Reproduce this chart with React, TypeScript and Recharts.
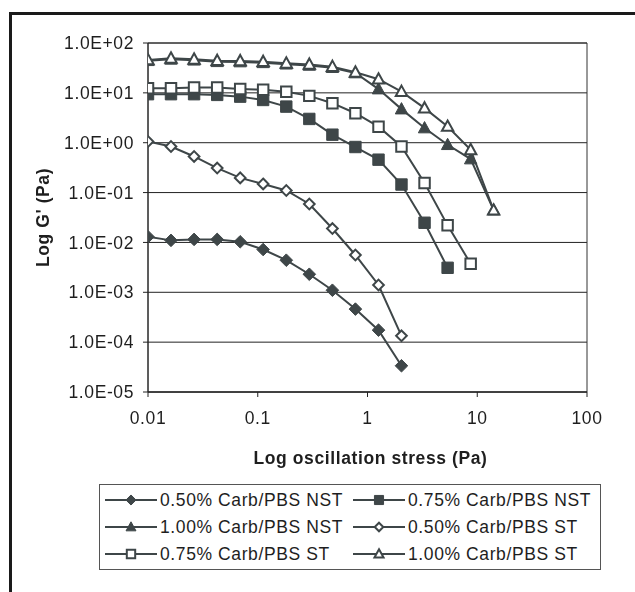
import React from 'react';
import { LineChart, Line, XAxis, YAxis, CartesianGrid, ReferenceArea } from 'recharts';

// Oscillation stress (Pa) – shared x positions
const xValues = [0.01, 0.0162, 0.0263, 0.0427, 0.0692, 0.112, 0.182, 0.295, 0.479, 0.776, 1.26, 2.04, 3.31, 5.37, 8.71, 14.1];

// G' (Pa) per series
const carb050NST = [0.013, 0.011, 0.0115, 0.0115, 0.0103, 0.0072, 0.0044, 0.0023, 0.0011, 0.00046, 0.000174, 0.0000336];
const carb075NST = [9.4, 9.4, 9.4, 9.1, 8.4, 7.2, 5.3, 3.0, 1.45, 0.82, 0.457, 0.145, 0.0248, 0.0031];
const carb100NST = [44, 47, 45, 42, 41.5, 40, 37.5, 35.5, 32, 25, 11.9, 4.72, 1.97, 0.91, 0.47, 0.0443];
const carb050ST = [1.06, 0.84, 0.53, 0.31, 0.197, 0.149, 0.11, 0.059, 0.019, 0.0056, 0.0014, 0.000134];
const carb075ST = [12.4, 12.4, 12.8, 12.8, 12.0, 11.5, 10.5, 8.7, 6.2, 3.9, 2.1, 0.84, 0.156, 0.022, 0.00375];
const carb100ST = [45.7, 49.4, 47.2, 44.3, 43.7, 42.3, 39.3, 37.2, 33.6, 25.9, 18.8, 10.6, 4.94, 2.12, 0.72, 0.0443];

const seriesNames = [
  '0.50% Carb/PBS NST',
  '0.75% Carb/PBS NST',
  '1.00% Carb/PBS NST',
  '0.50% Carb/PBS ST',
  '0.75% Carb/PBS ST',
  '1.00% Carb/PBS ST',
];
const seriesValues = [carb050NST, carb075NST, carb100NST, carb050ST, carb075ST, carb100ST];
const seriesShapes = ['diamond', 'square', 'triangle', 'diamond', 'square', 'triangle'];
const seriesFilled = [true, true, true, false, false, false];

const xTicks = [0.01, 0.1, 1, 10, 100];
const yTicks = [1e-5, 1e-4, 1e-3, 1e-2, 1e-1, 1, 10, 100];

const COLOR = '#3e4648';
const TEXT = '#1e1e1e';
const FONT = '"Liberation Sans", Arial, sans-serif';
const FS = 17.5;
const LS = 0.6;

const series = seriesNames.map((name, i) => ({
  name,
  shape: seriesShapes[i],
  filled: seriesFilled[i],
  data: seriesValues[i].map((y, j) => ({ x: xValues[j], y })),
}));

function fmtExp(v: number) {
  const s = v.toExponential(1).toUpperCase();
  return s.replace(/E([+-])(\d+)$/, (_m, sg, d) => 'E' + sg + (d.length < 2 ? '0' + d : d));
}

function markerPath(shape: string, cx: number, cy: number, scale: number) {
  if (shape === 'diamond') {
    const r = 6.3 * scale;
    return `M${cx},${cy - r}L${cx + r},${cy}L${cx},${cy + r}L${cx - r},${cy}Z`;
  }
  if (shape === 'square') {
    const r = 5.7 * scale;
    return `M${cx - r},${cy - r}L${cx + r},${cy - r}L${cx + r},${cy + r}L${cx - r},${cy + r}Z`;
  }
  const w = 6.2 * scale;
  const t = 6.5 * scale;
  const b = 4.8 * scale;
  return `M${cx},${cy - t}L${cx + w},${cy + b}L${cx - w},${cy + b}Z`;
}

function Marker({ shape, filled, cx, cy, scale = 1 }: any) {
  const d = markerPath(shape, cx, cy, filled ? scale : scale * (shape === 'diamond' ? 0.85 : 0.92));
  return (
    <path
      d={d}
      fill={filled ? COLOR : '#ffffff'}
      stroke={COLOR}
      strokeWidth={filled ? 1 : 2}
      strokeLinejoin="miter"
    />
  );
}

function YTick(props: any) {
  const { x, y, payload } = props;
  return (
    <text x={x} y={y} dy="0.355em" textAnchor="end" fill={TEXT} fontFamily={FONT} fontSize={FS} style={{ letterSpacing: LS }}>
      {fmtExp(payload.value)}
    </text>
  );
}

function XTick(props: any) {
  const { x, y, payload } = props;
  return (
    <text x={x} y={y} dy="0.71em" textAnchor="middle" fill={TEXT} fontFamily={FONT} fontSize={FS} style={{ letterSpacing: LS }}>
      {String(payload.value)}
    </text>
  );
}

function XTitle(props: any) {
  const vb = props.viewBox || { x: 140, y: 384, width: 439, height: 30 };
  return (
    <text x={vb.x + vb.width / 2 + 3} y={vb.y + 72} textAnchor="middle" fill={TEXT} fontFamily={FONT} fontSize={FS} fontWeight="bold" style={{ letterSpacing: LS }}>
      Log oscillation stress (Pa)
    </text>
  );
}

function YTitle(props: any) {
  const vb = props.viewBox || { x: 0, y: 35, width: 140, height: 349 };
  const cx = vb.x + 41;
  const cy = vb.y + vb.height / 2;
  return (
    <text x={cx} y={cy} textAnchor="middle" transform={`rotate(-90 ${cx} ${cy})`} fill={TEXT} fontFamily={FONT} fontSize={FS} fontWeight="bold" style={{ letterSpacing: LS }}>
      Log G' (Pa)
    </text>
  );
}

function LegendBox() {
  const colX = [6, 254];
  const lineLen = 52;
  const rowY = [16, 43, 70];
  return (
    <svg width={503} height={87} style={{ position: 'absolute', left: 91, top: 476 }}>
      <rect x={0.5} y={0.5} width={501} height={85} fill="#ffffff" stroke="#555" strokeWidth={1} />
      {series.map((s, i) => {
        const col = i % 2;
        const row = Math.floor(i / 2);
        const x0 = colX[col];
        const y0 = rowY[row];
        return (
          <g key={s.name}>
            <line x1={x0} y1={y0} x2={x0 + lineLen} y2={y0} stroke={COLOR} strokeWidth={2} />
            <Marker shape={s.shape} filled={s.filled} cx={x0 + lineLen / 2} cy={y0} scale={0.8} />
            <text x={x0 + lineLen + 3} y={y0 + 6.3} fill={TEXT} fontFamily={FONT} fontSize={FS} style={{ letterSpacing: LS }}>
              {s.name}
            </text>
          </g>
        );
      })}
    </svg>
  );
}

export default function App() {
  return (
    <div style={{ position: 'relative', width: 619, height: 576 }}>
      <div
        style={{
          position: 'fixed',
          left: 9,
          top: 12,
          width: 623,
          height: 577,
          borderLeft: '3px solid #1a1a1a',
          borderTop: '3px solid #1a1a1a',
          pointerEvents: 'none',
        }}
      />
      <LineChart width={619} height={576} margin={{ top: 35, right: 40, bottom: 162, left: 0 }}>
        <CartesianGrid horizontal vertical={false} stroke="#222" strokeWidth={1} />
        <XAxis
          dataKey="x"
          type="number"
          scale="log"
          domain={[0.01, 100]}
          ticks={xTicks}
          allowDataOverflow
          height={30}
          tickSize={5}
          tickMargin={15}
          stroke="#222"
          tick={<XTick />}
          label={<XTitle />}
        />
        <YAxis
          type="number"
          scale="log"
          domain={[1e-5, 100]}
          ticks={yTicks}
          allowDataOverflow
          width={140}
          tickSize={5}
          tickMargin={9}
          stroke="#222"
          tick={<YTick />}
          label={<YTitle />}
        />
        <ReferenceArea x1={0.01} x2={100} y1={1e-5} y2={100} fill="none" stroke="#333" strokeWidth={1} ifOverflow="visible" />
        {series.map((s) => (
          <Line
            key={s.name}
            data={s.data}
            dataKey="y"
            name={s.name}
            stroke={COLOR}
            strokeWidth={2}
            isAnimationActive={false}
            activeDot={false}
            dot={(p: any) => (
              <Marker key={`${s.name}-${p.index}`} shape={s.shape} filled={s.filled} cx={p.cx} cy={p.cy} />
            )}
          />
        ))}
      </LineChart>
      <LegendBox />
    </div>
  );
}
